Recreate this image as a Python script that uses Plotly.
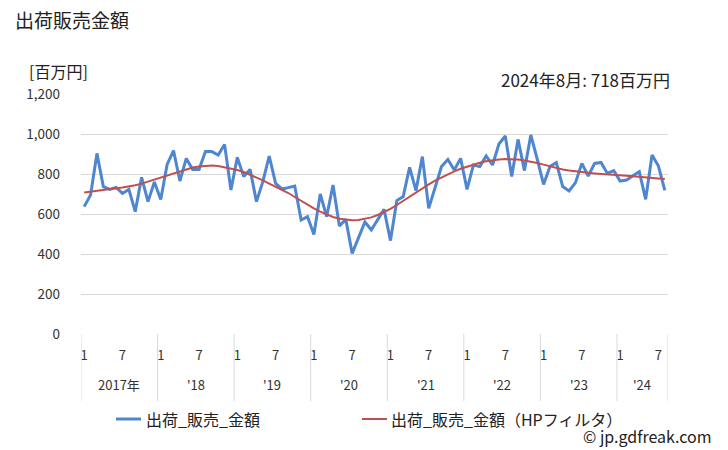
import plotly.graph_objects as go

# ---- data (Jan 2017 .. Aug 2024, monthly) ----
years = [2017, 2018, 2019, 2020, 2021, 2022, 2023, 2024]
year_labels = ["2017年", "'18", "'19", "'20", "'21", "'22", "'23", "'24"]
months_in_year = [12, 12, 12, 12, 12, 12, 12, 8]

sales = [
    637, 695, 903, 737, 723, 733, 703, 723, 612, 783, 662, 760,   # 2017
    673, 848, 917, 765, 878, 823, 823, 912, 912, 895, 948, 720,   # 2018
    883, 787, 823, 662, 762, 890, 753, 725, 732, 740, 570, 587,   # 2019
    498, 700, 587, 745, 540, 573, 403, 478, 560, 520, 570, 623,   # 2020
    467, 667, 687, 833, 717, 887, 628, 728, 837, 873, 820, 878,   # 2021
    723, 845, 837, 890, 845, 950, 990, 787, 973, 817, 995, 875,   # 2022
    748, 837, 857, 737, 715, 757, 853, 790, 853, 858, 803, 817,   # 2023
    765, 770, 790, 812, 673, 895, 840, 718,                       # 2024
]
trend = [
    707, 712, 716, 722, 725, 729, 733, 738, 744, 752, 762, 772,
    782, 793, 805, 815, 825, 832, 837, 840, 842, 840, 834, 828,
    820, 810, 797, 783, 768, 752, 737, 722, 705, 685, 665, 645,
    628, 612, 598, 585, 576, 571, 569, 570, 575, 583, 595, 610,
    626, 645, 666, 688, 710, 730, 748, 767, 783, 800, 813, 826,
    837, 847, 856, 864, 869, 873, 875, 875, 872, 867, 862, 855,
    847, 838, 830, 823, 818, 813, 809, 806, 803, 800, 798, 796,
    794, 791, 789, 787, 784, 781, 778, 775,
]
month_tick_labels = ["1", "7"]
y_ticks = [0, 200, 400, 600, 800, 1000, 1200]

title_text = "出荷販売金額"
unit_text = "[百万円]"
latest_text = "2024年8月: 718百万円"
name_raw = "出荷_販売_金額"
name_hp = "出荷_販売_金額（HPフィルタ）"
credit = "© jp.gdfreak.com"

FONT = "Noto Sans CJK JP"
BLUE = "#4F86D0"
RED = "#C0504D"
GRID = "#D9D9D9"

n = len(sales)
x = list(range(n))

# plot area in pixels
L, R, T, B = 81, 668, 94, 334
W, H = 728, 450
pw, ph = R - L, B - T


def px(xp):
    return (xp - L) / pw


def py(yp):
    return (B - yp) / ph


fig = go.Figure()
fig.add_trace(go.Scatter(x=x, y=sales, mode="lines", name=name_raw,
                         line=dict(color=BLUE, width=3), showlegend=False))
fig.add_trace(go.Scatter(x=x, y=trend, mode="lines", name=name_hp,
                         line=dict(color=RED, width=2), showlegend=False))

# month ticks
tickvals, ticktext = [], []
start = 0
for cnt in months_in_year:
    for m, lab in zip((1, 7), month_tick_labels):
        if m <= cnt:
            tickvals.append(start + m - 1)
            ticktext.append(lab)
    start += cnt

shapes = []
annotations = []
start = 0
for yl, cnt in zip(year_labels, months_in_year):
    shapes.append(dict(type="line", xref="x", yref="paper", x0=start - 0.5, x1=start - 0.5,
                       y0=0, y1=py(401), line=dict(color=GRID, width=1)))
    annotations.append(dict(x=start + (cnt - 1) / 2, y=py(384), xref="x", yref="paper",
                            text=yl, showarrow=False, font=dict(size=13, color="#333333", family=FONT),
                            xanchor="center", yanchor="middle"))
    start += cnt
shapes.append(dict(type="line", xref="x", yref="paper", x0=start - 0.5, x1=start - 0.5,
                   y0=0, y1=py(401), line=dict(color=GRID, width=1)))

# legend drawn manually
shapes.append(dict(type="line", xref="paper", yref="paper", x0=px(116), x1=px(141),
                   y0=py(419), y1=py(419), line=dict(color=BLUE, width=3)))
shapes.append(dict(type="line", xref="paper", yref="paper", x0=px(362), x1=px(387),
                   y0=py(419), y1=py(419), line=dict(color=RED, width=2)))
annotations.append(dict(x=px(144), y=py(419), xref="paper", yref="paper", text=name_raw,
                        showarrow=False, xanchor="left", yanchor="middle",
                        font=dict(size=16, color="#222222", family=FONT)))
annotations.append(dict(x=px(389), y=py(419), xref="paper", yref="paper", text=name_hp,
                        showarrow=False, xanchor="left", yanchor="middle",
                        font=dict(size=16, color="#222222", family=FONT)))
annotations.append(dict(x=px(714), y=py(436), xref="paper", yref="paper", text=credit,
                        showarrow=False, xanchor="right", yanchor="middle",
                        font=dict(size=16, color="#222222", family=FONT)))
annotations.append(dict(x=px(27), y=py(71), xref="paper", yref="paper", text=unit_text,
                        showarrow=False, xanchor="left", yanchor="middle",
                        font=dict(size=16, color="#222222", family=FONT)))
annotations.append(dict(x=px(672), y=py(79), xref="paper", yref="paper", text=latest_text,
                        showarrow=False, xanchor="right", yanchor="middle",
                        font=dict(size=17, color="#222222", family=FONT)))

fig.update_layout(
    width=W, height=H,
    margin=dict(l=L, r=W - R, t=T, b=H - B, pad=0),
    paper_bgcolor="white", plot_bgcolor="white",
    title=dict(text=title_text, x=15 / W, y=1 - 21 / H, xref="container", yref="container",
               xanchor="left", yanchor="middle", font=dict(size=19, color="#222222", family=FONT)),
    font=dict(family=FONT, color="#333333"),
    shapes=shapes, annotations=annotations,
    xaxis=dict(range=[-0.5, n - 0.5], tickvals=tickvals, ticktext=ticktext, showgrid=False,
               zeroline=False, showline=False, ticks="", ticklabelstandoff=12,
               tickfont=dict(size=13, color="#333333", family=FONT)),
    yaxis=dict(range=[0, 1200], tickvals=y_ticks, tickformat=",", showgrid=True, gridcolor=GRID,
               gridwidth=1, zeroline=False, showline=False, ticks="", ticklabelstandoff=20,
               tickfont=dict(size=13.5, color="#333333", family=FONT)),
)

fig.write_html("out.html")
